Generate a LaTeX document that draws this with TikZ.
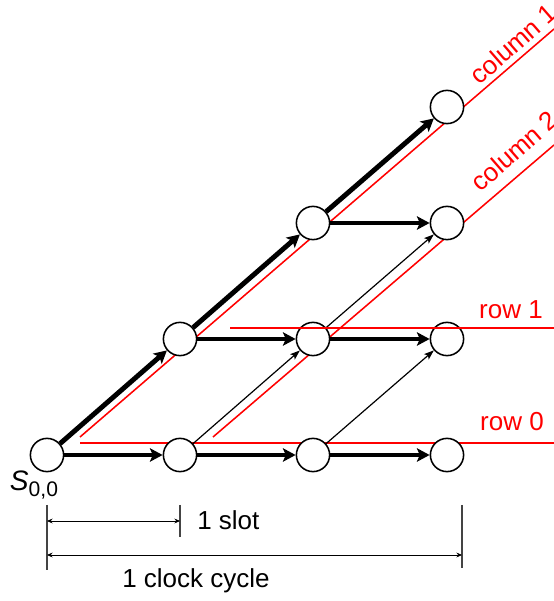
\documentclass[tikz,border=0pt]{standalone}
\usepackage{fontspec}
\setmainfont{Liberation Sans}
\usetikzlibrary{arrows.meta, calc}
\definecolor{guidered}{HTML}{FF0000}
\definecolor{bargray}{HTML}{444444}

\begin{document}
\begin{tikzpicture}[x=0.025cm, y=0.025cm,
      state/.style={circle, draw=black, line width=1.1pt, fill=white,
        minimum size=0.83cm, inner sep=0pt},
      main/.style={-{Stealth[length=9pt, width=9.5pt, inset=2pt]}, line width=3.5pt},
      side/.style={-{Stealth[length=7pt, width=5pt, inset=1.5pt]}, line width=0.85pt},
      guide/.style={guidered, line width=1.1pt},
      tag/.style={guidered, font=\fontsize{18.5}{20}\selectfont, inner sep=0pt},
      lbl/.style={font=\fontsize{18.5}{20}\selectfont, inner sep=0pt},
      bar/.style={bargray, line width=0.8pt},
      dim/.style={{Stealth[length=4pt, width=3.5pt]}-{Stealth[length=4pt, width=3.5pt]},
        line width=0.6pt}]
    \useasboundingbox (0,0) rectangle (554,601);
    % ends of the red guide lines
    \coordinate (r0a) at (80,158);  \coordinate (r0b) at (554,158);
    \coordinate (r1a) at (230,273); \coordinate (r1b) at (554,273);
    \coordinate (c1a) at (80,164);  \coordinate (c1b) at (554,572);
    \coordinate (c2a) at (213,164); \coordinate (c2b) at (554,456);
    \draw[guide] (r0a) -- (r0b);
    \draw[guide] (c1a) -- (c1b);
    \draw[guide] (c2a) -- (c2b);
    % states
    \node[state] (s00) at (47,146) {};
    \node[state] (s10) at (180,146) {};
    \node[state] (s20) at (313,146) {};
    \node[state] (s30) at (447,146) {};
    \node[state] (s11) at (180,262) {};
    \node[state] (s21) at (313,262) {};
    \node[state] (s31) at (447,262) {};
    \node[state] (s22) at (313,378) {};
    \node[state] (s32) at (447,378) {};
    \node[state] (s33) at (447,494) {};
    \node[lbl, font=\fontsize{20}{22}\selectfont] (start) at (34,116)
      {\textit{S}\raisebox{-0.45ex}{\fontsize{15}{16}\selectfont 0,0}};
    % transitions
    \draw[main] (s00) -- (s10);
    \draw[main] (s10) -- (s20);
    \draw[main] (s20) -- (s30);
    \draw[main] (s11) -- (s21);
    \draw[main] (s21) -- (s31);
    \draw[main] (s22) -- (s32);
    \draw[main] (s00) -- (s11);
    \draw[main] (s11) -- (s22);
    \draw[main] (s22) -- (s33);
    \draw[side] (s10) -- (s21);
    \draw[side] (s20) -- (s31);
    \draw[side] (s21) -- (s32);
    \draw[guide] (r1a) -- (r1b);
    \node[tag] (row0) at (512,179) {row 0};
    \node[tag] (row1) at (511,291) {row 1};
    \node[tag, rotate=41] (col1) at (513,557) {column 1};
    \node[tag, rotate=41] (col2) at (514,450) {column 2};
    % time scale
    \coordinate (d0t) at (47,96);  \coordinate (d0b) at (47,31);
    \coordinate (d1t) at (180,96); \coordinate (d1b) at (180,64);
    \coordinate (d2t) at (462,96); \coordinate (d2b) at (462,33);
    \coordinate (slotL) at (47,80); \coordinate (slotR) at (180,80);
    \coordinate (cycL) at (47,46);  \coordinate (cycR) at (462,46);
    \draw[bar] (d0t) -- (d0b);
    \draw[bar] (d1t) -- (d1b);
    \draw[bar] (d2t) -- (d2b);
    \draw[dim] (slotL) -- (slotR);
    \draw[dim] (cycL) -- (cycR);
    \node[lbl, anchor=west] (slot) at (197,81) {1 slot};
    \node[lbl] (cycle) at (196,20) {1 clock cycle};
  \end{tikzpicture}
\end{document}
